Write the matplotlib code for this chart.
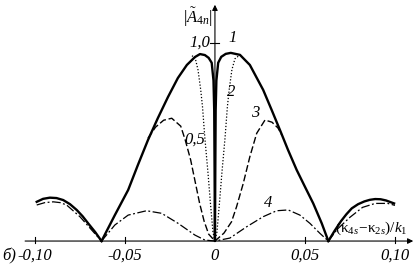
import numpy as np
import matplotlib
matplotlib.use("Agg")
import matplotlib.pyplot as plt

# |A_4n| versus (k4s - k2s)/k1, curves 1..4

# curve 1 (solid), main lobe and side lobes
c1_x = [-0.0630, -0.0556, -0.0482, -0.0428, -0.0372, -0.0317, -0.0261, -0.0206,
        -0.0156, -0.0111, -0.0083, -0.0056, -0.0035, -0.0018, -0.0008, -0.0004,
        -0.0002, 0.0, 0.0002, 0.0004, 0.0008, 0.0018, 0.0035, 0.0060, 0.0088,
        0.0139, 0.0194, 0.0268, 0.0315, 0.0361, 0.0406, 0.0454, 0.0500, 0.0546,
        0.0593, 0.0630]
c1_y = [0.0, 0.131, 0.258, 0.384, 0.510, 0.621, 0.727, 0.823,
        0.889, 0.929, 0.944, 0.939, 0.925, 0.90, 0.81, 0.66,
        0.36, 0.0, 0.36, 0.66, 0.81, 0.90, 0.93, 0.945, 0.95,
        0.94, 0.889, 0.763, 0.662, 0.561, 0.46, 0.359, 0.274, 0.19,
        0.09, 0.0]
c1_side_l_x = [-0.0990, -0.0955, -0.0917, -0.0880, -0.0843, -0.0805, -0.0768,
               -0.0735, -0.0704, -0.0665, -0.0630]
c1_side_l_y = [0.198, 0.213, 0.219, 0.217, 0.207, 0.186, 0.157,
               0.125, 0.089, 0.045, 0.0]
c1_side_r_x = [0.0630, 0.0665, 0.0700, 0.0730, 0.0760, 0.0795, 0.0830, 0.0860,
               0.0890, 0.0920, 0.0950, 0.0995]
c1_side_r_y = [0.0, 0.052, 0.100, 0.135, 0.165, 0.186, 0.200, 0.208,
               0.212, 0.211, 0.205, 0.190]

# curve 2 (dotted), only where it leaves curve 1
c2_x = [-0.0128, -0.0111, -0.0094, -0.0079, -0.0069, -0.0056, -0.0039, -0.0024,
        -0.0011, 0.0, 0.0011, 0.0024, 0.0039, 0.0056, 0.0069, 0.0079, 0.0094,
        0.0111, 0.0139]
c2_y = [0.935, 0.929, 0.864, 0.763, 0.677, 0.52, 0.348, 0.18,
        0.045, 0.0, 0.045, 0.18, 0.348, 0.52, 0.677, 0.763, 0.864,
        0.92, 0.94]

# curve 3 (dashed), joins curve 1 on the outer flanks
c3_x = [-0.0372, -0.0330, -0.0285, -0.0240, -0.0190, -0.0165, -0.0135, -0.0110,
        -0.0085, -0.0060, -0.0035, 0.0, 0.0050, 0.0092, 0.0120, 0.0157, 0.0194,
        0.0232, 0.0278, 0.0317, 0.0350, 0.0372]
c3_y = [0.519, 0.575, 0.610, 0.620, 0.580, 0.510, 0.410, 0.300,
        0.190, 0.100, 0.035, 0.0, 0.040, 0.097, 0.173, 0.290, 0.426,
        0.544, 0.611, 0.600, 0.571, 0.535]

# curve 4 (dash-dot)
c4_x = [-0.063, -0.0556, -0.0482, -0.038, -0.0296, -0.0204, -0.0111, -0.0056, 0.0,
        0.0083, 0.0176, 0.0268, 0.0343, 0.0407, 0.0472, 0.0528, 0.0583, 0.063]
c4_y = [0.0, 0.081, 0.131, 0.153, 0.14, 0.089, 0.03, 0.005, 0.0,
        0.015, 0.072, 0.123, 0.153, 0.157, 0.131, 0.089, 0.039, 0.0]
c4_side_l_x = [-0.099, -0.0945, -0.0898, -0.0860, -0.0824, -0.075, -0.0685, -0.063]
c4_side_l_y = [0.182, 0.194, 0.198, 0.194, 0.182, 0.123, 0.056, 0.0]
c4_side_r_x = [0.063, 0.068, 0.075, 0.082, 0.089, 0.096, 0.100]
c4_side_r_y = [0.0, 0.06, 0.12, 0.17, 0.19, 0.19, 0.18]

x_ticks = [-0.10, -0.05, 0.0, 0.05, 0.10]
x_tick_labels = ['-0,10', '-0,05', '0', '0,05', '0,10']

plt.rcParams['font.family'] = ['Liberation Serif', 'DejaVu Serif']
plt.rcParams['mathtext.fontset'] = 'custom'
plt.rcParams['mathtext.rm'] = 'Liberation Serif'
plt.rcParams['mathtext.it'] = 'Liberation Serif:italic'

fig = plt.figure(figsize=(4.18, 2.66), dpi=100)
ax = fig.add_axes([0, 0, 1, 1])
ax.set_xlim(-0.1194, 0.1128)
ax.set_ylim(-0.126, 1.217)
ax.axis('off')

k = 'black'
dashdot = (0, (7, 2, 1.5, 2))
ax.plot(c1_x, c1_y, color=k, lw=1.7, solid_joinstyle='round')
ax.plot(c1_side_l_x, c1_side_l_y, color=k, lw=1.7)
ax.plot(c1_side_r_x, c1_side_r_y, color=k, lw=1.7)
ax.plot(c2_x, c2_y, color=k, lw=0.9, linestyle=(0, (1, 1.5)))
ax.plot(c3_x, c3_y, color=k, lw=1.0, linestyle=(0, (5, 2)))
ax.plot(c4_x, c4_y, color=k, lw=0.9, linestyle=dashdot)
ax.plot(c4_side_l_x, c4_side_l_y, color=k, lw=0.9, linestyle=dashdot)
ax.plot(c4_side_r_x, c4_side_r_y, color=k, lw=0.9, linestyle=dashdot)

# axes with arrows
ax.annotate('', xy=(0.1117, 0), xytext=(-0.107, 0),
            arrowprops=dict(arrowstyle='-|>', color=k, lw=0.8, mutation_scale=8))
ax.annotate('', xy=(0, 1.207), xytext=(0, 0),
            arrowprops=dict(arrowstyle='-|>', color=k, lw=0.8, mutation_scale=8))
for t in x_ticks:
    if t != 0:
        ax.plot([t, t], [-0.01, 0.02], color=k, lw=0.8)
ax.plot([-0.0025, 0.0025], [1.0, 1.0], color=k, lw=0.8)

fs = 12
for t, lab in zip(x_ticks, x_tick_labels):
    ax.text(t, -0.076, lab, fontsize=fs, style='italic', ha='center', va='center')
ax.text(-0.1144, -0.076, 'б)', fontsize=fs, style='italic', ha='center', va='center')
ax.text(-0.0028, 1.0, '1,0', fontsize=fs, style='italic', ha='right', va='center')
ax.text(-0.0110, 0.51, '0,5', fontsize=fs, style='italic', ha='center', va='center')
ax.text(-0.0011, 1.13, r'$|\tilde{A}_{4n}|$', fontsize=fs, ha='right', va='center')
ax.text(0.010, 1.025, '1', fontsize=fs, style='italic', ha='center', va='center')
ax.text(0.0089, 0.75, '2', fontsize=fs, style='italic', ha='center', va='center')
ax.text(0.0222, 0.646, '3', fontsize=fs, style='italic', ha='center', va='center')
ax.text(0.0294, 0.192, '4', fontsize=fs, style='italic', ha='center', va='center')
ax.text(0.0667, 0.066, r'$(\mathrm{κ}_{4s}\!-\!\mathrm{κ}_{2s})/k_1$', fontsize=11,
        ha='left', va='center')

fig.savefig('out.png', dpi=100)
